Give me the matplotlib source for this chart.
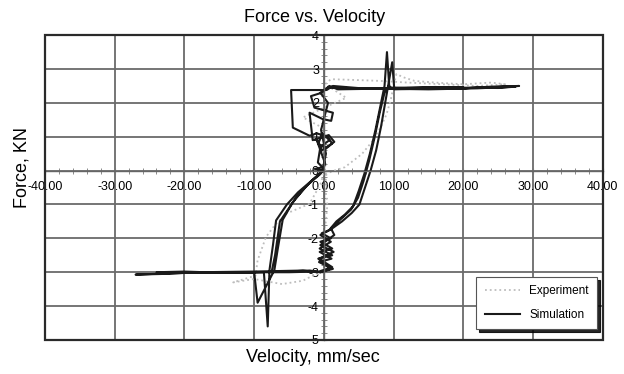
import matplotlib
matplotlib.use('Agg')
import matplotlib.pyplot as plt
from matplotlib.ticker import MultipleLocator, FormatStrFormatter
from matplotlib.patches import Rectangle

plt.rcParams['font.family'] = ['Liberation Sans', 'DejaVu Sans']

# Simulation (black solid) - velocity mm/sec, force KN
sim_vel = [-0.5, 0.9, -0.8, 1.2, -0.6, 1.0, -0.5, 0.8,
           1.8, 3.0, 4.2, 5.0, 5.8, 6.6, 7.4, 8.1, 8.7, 9.05, 9.4,
           12, 16, 20, 24, 28, 24, 18, 12, 6, 1.3, 0.4, -0.9, -4.7,
           -4.45, -2.05, -1.0, 0.5, 1.2, 0.3, -0.8, -0.2, 0.8, -0.5, -0.86, -0.2, -1.3,
           0.0, -1.5, -3.7, -5.3, -6.85, -7.3, -7.8, -8.05, -8.6,
           -12, -18, -23, -27, -22, -15, -8, -2, -0.5,
           1.3, -0.7, 1.1, -0.6, 1.2, -0.5, 1.0, -0.3, 0.9,
           2.6, 4.0, 5.1, 5.9, 6.7, 7.5, 8.2, 8.8, 9.3, 9.8, 10.1,
           14, 19, 25, 27.5, 22, 15, 8, 2, 0.8, -0.3, -1.85, -1.35, 1.3, 1.05, -0.14, -2.05,
           -1.6, 0.7, 1.5, -0.3, -1.1, 0.2, -0.5,
           -2.5, -4.5, -5.9, -6.6, -7.1, -9.5, -10.0,
           -14, -20, -24, -18, -10, -3, -1.0, 1.2, -0.7, 1.4, -0.5, 1.5, 1.0,
           2.6, 3.9, 4.9, 5.7, 6.5, 7.3, 8.0, 8.7, 9.3, 9.7,
           14, 20, 16, 8, 0.5, -0.5, 0.6, -0.4, 0.3, -0.2,
           -2.0, -4.0, -6.3, -7.0, -7.5, -5.0, -1.0]
sim_force = [-3.0, -2.9, -2.6, -2.5, -2.3, -2.1, -1.9, -1.75,
             -1.5, -1.3, -1.05, -0.6, -0.1, 0.5, 1.2, 1.9, 2.5, 3.5, 2.42,
             2.44, 2.47, 2.43, 2.48, 2.5, 2.46, 2.42, 2.44, 2.42, 2.5, 2.38, 2.38, 2.38,
             1.27, 1.03, 1.1, 1.0, 0.8, 0.65, 0.8, 1.1, 0.9, 0.7, 0.24, 0.1, 0.05,
             0.0, -0.25, -0.64, -1.0, -1.47, -2.2, -2.94, -4.6, -3.0,
             -3.02, -3.0, -3.05, -3.07, -3.03, -3.0, -3.0, -2.95, -3.0,
             -2.9, -2.7, -2.6, -2.4, -2.3, -2.1, -2.0, -1.85, -1.75,
             -1.5, -1.25, -1.0, -0.5, 0.0, 0.6, 1.3, 2.0, 2.6, 3.2, 2.4,
             2.42, 2.45, 2.44, 2.48, 2.43, 2.4, 2.42, 2.4, 2.5, 2.3, 2.2, 1.86, 1.71, 1.47, 1.52, 1.71,
             0.9, 1.05, 0.85, 0.6, 0.95, 0.2, -0.1,
             -0.45, -0.95, -1.45, -2.3, -2.94, -3.9, -3.0,
             -3.02, -2.98, -3.0, -3.0, -2.98, -2.95, -3.0, -2.85, -2.6, -2.4, -2.2, -1.9, -1.7,
             -1.4, -1.15, -0.8, -0.3, 0.3, 1.0, 1.7, 2.3, 2.5, 2.45,
             2.45, 2.46, 2.44, 2.42, 2.45, 2.3, 2.0, 1.2, 0.5, 0.0,
             -0.35, -0.8, -1.5, -2.5, -3.0, -3.0, -2.98]

# Experiment (grey dotted)
exp_vel = [0.2, 1.5, 3.0, 4.2, 5.5, 7.0, 8.2, 9.0, 9.6, 9.9, 10.4, 11.5, 13, 16, 20, 24, 26,
           22, 17, 12, 8, 4, 1, 0.2, 3.2, 0.5, -3.0, -0.5, 0.3, -0.2, 0.3, -0.5,
           -2.05, -5.4, -7.0, -8.3, -9.5, -9.8, -13, -10, -6, -3, -1.6, 0.0,
           0.3, -0.3, 0.3, 0.5, 0.2, 0.4]
exp_force = [-0.1, 0.0, 0.1, 0.29, 0.5, 0.88, 1.3, 1.67, 2.1, 2.4, 2.85, 2.75, 2.65, 2.6, 2.55, 2.6, 2.55,
             2.5, 2.55, 2.6, 2.65, 2.68, 2.7, 2.55, 2.15, 1.9, 1.57, 1.3, 0.9, 0.5, 0.1, -0.4,
             -0.98, -1.27, -1.6, -1.96, -2.65, -3.1, -3.3, -3.2, -3.35, -3.25, -3.1, -3.0,
             -2.5, -2.0, -1.5, -1.0, -0.5, 0.0]

fig = plt.figure(figsize=(6.24, 3.74), dpi=100)
ax = fig.add_axes([0.072, 0.091, 0.894, 0.815])

ax.plot(exp_vel, exp_force, linestyle=':', color='#bdbdbd', linewidth=1.3, label='Experiment')
ax.plot(sim_vel, sim_force, color='#1a1a1a', linewidth=1.5, label='Simulation')

ax.set_xlim(-40, 40)
ax.set_ylim(-5, 4)
ax.xaxis.set_major_locator(MultipleLocator(10))
ax.xaxis.set_minor_locator(MultipleLocator(2))
ax.yaxis.set_major_locator(MultipleLocator(1))
ax.yaxis.set_minor_locator(MultipleLocator(0.2))
ax.xaxis.set_major_formatter(FormatStrFormatter('%.2f'))
ax.yaxis.set_major_formatter(FormatStrFormatter('%d'))

ax.grid(True, which='major', color='#6a6a6a', linewidth=1.3)
ax.set_axisbelow(True)

# axes through the origin
ax.spines['left'].set_position(('data', 0))
ax.spines['bottom'].set_position(('data', 0))
ax.spines['top'].set_visible(False)
ax.spines['right'].set_visible(False)
for s in ['left', 'bottom']:
    ax.spines[s].set_color('#666666')
    ax.spines[s].set_linewidth(1.0)
ax.tick_params(which='both', direction='inout', color='#777777', labelsize=9)
ax.tick_params(axis='x', pad=5)
ax.tick_params(axis='y', pad=1)
ax.tick_params(which='major', length=5)
ax.tick_params(which='minor', length=4)

# outer frame
ax.add_patch(Rectangle((0, 0), 1, 1, transform=ax.transAxes, fill=False,
                       edgecolor='#2a2a2a', linewidth=1.6, clip_on=False, zorder=5))

fig.text(315 / 624, 1 - 17 / 374, 'Force vs. Velocity', ha='center', va='center', fontsize=13)
fig.text(313 / 624, 1 - 358 / 374, 'Velocity, mm/sec', ha='center', va='center', fontsize=13)
fig.text(22 / 624, 1 - 168 / 374, 'Force, KN', ha='center', va='center', rotation=90, fontsize=13)

leg = ax.legend(loc='lower right', bbox_to_anchor=(0.99, 0.035), borderaxespad=0,
                fontsize=8.5, fancybox=False, edgecolor='#555555', framealpha=1,
                handlelength=3.0, labelspacing=1.0, borderpad=0.7,
                shadow={'color': 'black', 'alpha': 0.85})
leg.get_frame().set_linewidth(0.8)

plt.savefig('out.png', dpi=100)
